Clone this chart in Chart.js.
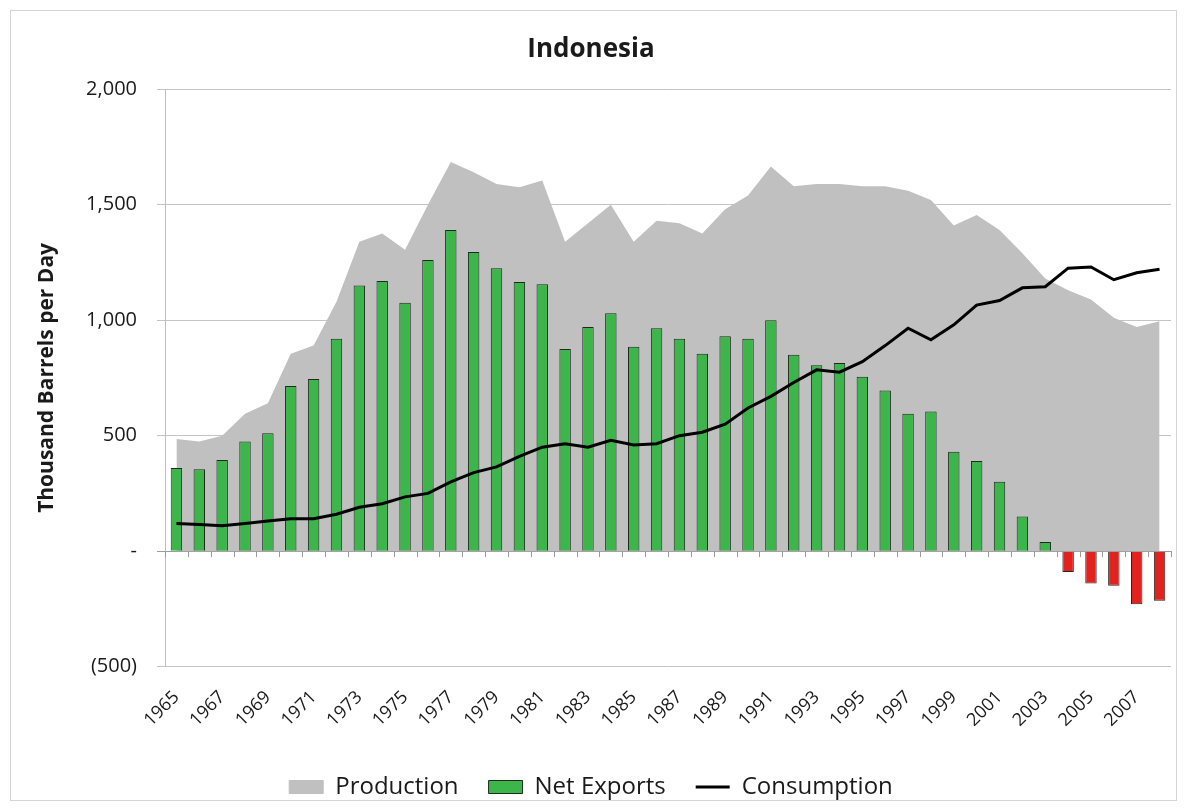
<!DOCTYPE html>
<html lang="en">
<head>
<meta charset="UTF-8">
<title>Indonesia</title>
<script src="https://cdn.jsdelivr.net/npm/chart.js"></script>
<style>
  body { margin: 0; background: #fff; }
  .chart-box {
    position: absolute; left: 10px; top: 10px;
    width: 1165px; height: 789px;
    border: 1px solid #d4d4d4;
  }
</style>
</head>
<body>
<div class="chart-box"><canvas id="chart"></canvas></div>
<script>
// Indonesia oil, thousand barrels per day
const years = ['1965', '1966', '1967', '1968', '1969', '1970', '1971', '1972', '1973', '1974',
  '1975', '1976', '1977', '1978', '1979', '1980', '1981', '1982', '1983', '1984',
  '1985', '1986', '1987', '1988', '1989', '1990', '1991', '1992', '1993', '1994',
  '1995', '1996', '1997', '1998', '1999', '2000', '2001', '2002', '2003', '2004',
  '2005', '2006', '2007', '2008'];

const production = [485, 475, 500, 595, 640, 855, 890, 1080, 1340, 1375,
  1305, 1500, 1685, 1640, 1590, 1575, 1605, 1340, 1420, 1500,
  1340, 1430, 1420, 1375, 1480, 1540, 1665, 1580, 1590, 1590,
  1580, 1580, 1560, 1520, 1410, 1455, 1390, 1290, 1180, 1130,
  1090, 1010, 970, 995];

const netExports = [360, 355, 395, 475, 510, 715, 745, 920, 1150, 1170,
  1075, 1260, 1390, 1295, 1225, 1165, 1155, 875, 970, 1030,
  885, 965, 920, 855, 930, 920, 1000, 850, 805, 815,
  755, 695, 595, 605, 430, 390, 300, 150, 40, -90,
  -140, -150, -230, -215];

const consumption = [120, 115, 110, 120, 130, 140, 140, 160, 190, 205,
  235, 250, 300, 340, 365, 410, 450, 465, 450, 480,
  460, 465, 500, 515, 550, 620, 670, 730, 785, 775,
  820, 890, 965, 915, 980, 1065, 1085, 1140, 1145, 1225,
  1230, 1175, 1205, 1220];

const fontName = '"Open Sans", "Liberation Sans", sans-serif';

function fmt(v) {
  if (v === 0) return '-';
  const s = Math.abs(v).toLocaleString('en-US');
  return v < 0 ? '(' + s + ')' : s;
}

// little tick marks along the zero line, between the years
const zeroTicks = {
  id: 'zeroTicks',
  afterDatasetsDraw(chart) {
    const x = chart.scales.x;
    const y0 = chart.scales.y.getPixelForValue(0);
    const ctx = chart.ctx;
    ctx.save();
    ctx.strokeStyle = '#9a9a9a';
    ctx.lineWidth = 1;
    ctx.beginPath();
    for (let i = 0; i <= years.length; i++) {
      const px = Math.round(x.getPixelForValue(i - 0.5)) + 0.5;
      ctx.moveTo(px, y0);
      ctx.lineTo(px, y0 + 6);
    }
    ctx.stroke();
    ctx.restore();
  }
};

new Chart(document.getElementById('chart'), {
  data: {
    labels: years,
    datasets: [
      {
        type: 'line',
        label: 'Production',
        data: production,
        backgroundColor: '#c0c0c0',
        borderColor: '#c0c0c0',
        borderWidth: 0,
        pointRadius: 0,
        fill: 'origin',
        order: 3
      },
      {
        type: 'bar',
        label: 'Net Exports',
        data: netExports,
        backgroundColor: netExports.map(v => v < 0 ? '#e3211f' : '#3cb54a'),
        borderColor: '#1e2a1e',
        borderWidth: 1,
        barPercentage: 0.5,
        categoryPercentage: 1,
        order: 2
      },
      {
        type: 'line',
        label: 'Consumption',
        data: consumption,
        borderColor: '#000',
        backgroundColor: '#000',
        borderWidth: 3,
        pointRadius: 0,
        tension: 0,
        fill: false,
        order: 1
      }
    ]
  },
  options: {
    responsive: true,
    maintainAspectRatio: false,
    animation: false,
    layout: { padding: { top: 10, right: 5, left: 0, bottom: -9 } },
    plugins: {
      title: {
        display: true,
        text: 'Indonesia',
        color: '#1a1a1a',
        font: { family: fontName, size: 26, weight: 'bold' },
        padding: { top: 13, bottom: 24 }
      },
      legend: {
        position: 'bottom',
        labels: {
          color: '#1a1a1a',
          font: { family: fontName, size: 24 },
          usePointStyle: true,
          pointStyleWidth: 34,
          boxHeight: 13,
          padding: 30,
          generateLabels(chart) {
            return chart.data.datasets.map((ds, i) => ({
              text: ds.label,
              datasetIndex: i,
              fillStyle: i === 1 ? '#3cb54a' : (i === 0 ? '#c0c0c0' : '#000'),
              strokeStyle: i === 1 ? '#1e2a1e' : (i === 0 ? '#c0c0c0' : '#000'),
              lineWidth: i === 2 ? 3 : 1,
              pointStyle: i === 2 ? 'line' : 'rect',
              fontColor: '#1a1a1a',
              hidden: false
            }));
          }
        }
      },
      tooltip: { enabled: false }
    },
    scales: {
      x: {
        offset: true,
        afterFit(scale) {
          scale.paddingRight = 0;
          scale.height -= 6;
        },
        grid: { display: false, drawTicks: false },
        border: { display: false },
        ticks: {
          autoSkip: false,
          maxRotation: 45,
          minRotation: 45,
          padding: 20,
          color: '#1a1a1a',
          font: { family: fontName, size: 18 },
          callback: (v, i) => (i % 2 === 0 ? years[i] : '')
        }
      },
      y: {
        min: -500,
        max: 2000,
        afterFit(scale) { scale.width = 154; },
        title: {
          display: true,
          text: 'Thousand Barrels per Day',
          color: '#1a1a1a',
          font: { family: fontName, size: 21, weight: 'bold' },
          padding: { top: 23, bottom: 0 }
        },
        border: { display: true, color: '#bdbdbd', width: 1 },
        grid: {
          color: ctx => (ctx.tick && ctx.tick.value === 0 ? '#9a9a9a' : '#c4c4c4'),
          lineWidth: 1,
          drawTicks: true,
          tickLength: 8
        },
        ticks: {
          stepSize: 500,
          padding: 20,
          color: '#1a1a1a',
          font: { family: fontName, size: 20 },
          callback: v => fmt(v)
        }
      }
    }
  },
  plugins: [zeroTicks]
});
</script>
</body>
</html>
